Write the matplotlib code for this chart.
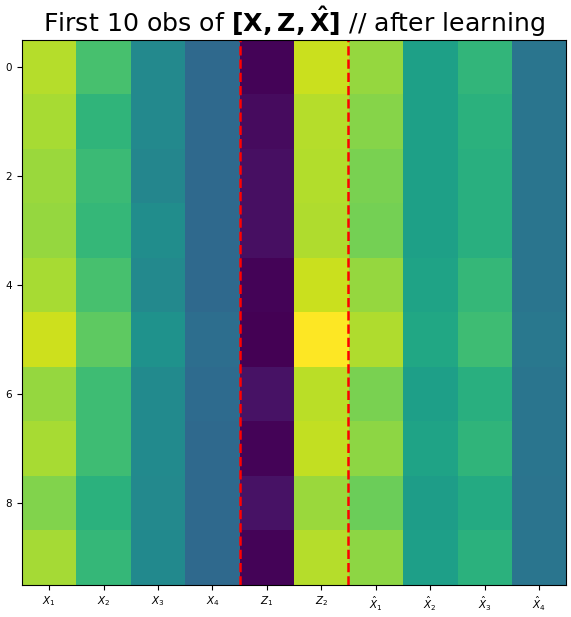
import matplotlib
matplotlib.use("Agg")
import matplotlib.pyplot as plt
import numpy as np

col_labels = [r'$X_1$', r'$X_2$', r'$X_3$', r'$X_4$', r'$Z_1$', r'$Z_2$',
              r'$\hat{X}_1$', r'$\hat{X}_2$', r'$\hat{X}_3$', r'$\hat{X}_4$']

# rows = first 10 observations, columns = X1..X4, Z1, Z2, Xhat1..Xhat4
X1 = [0.89, 0.87, 0.85, 0.84, 0.87, 0.925, 0.84, 0.87, 0.81, 0.865]
X2 = [0.71, 0.655, 0.68, 0.665, 0.71, 0.75, 0.69, 0.69, 0.64, 0.665]
X3 = [0.47, 0.47, 0.46, 0.49, 0.47, 0.51, 0.48, 0.48, 0.47, 0.475]
X4 = [0.34, 0.34, 0.34, 0.34, 0.34, 0.36, 0.35, 0.34, 0.34, 0.34]
Z1 = [0.01, 0.03, 0.04, 0.04, 0.01, 0.0, 0.05, 0.01, 0.05, 0.01]
Z2 = [0.92, 0.89, 0.885, 0.88, 0.92, 1.0, 0.895, 0.91, 0.85, 0.89]
XH1 = [0.84, 0.82, 0.80, 0.79, 0.84, 0.88, 0.80, 0.83, 0.775, 0.83]
XH2 = [0.57, 0.57, 0.57, 0.57, 0.58, 0.595, 0.565, 0.58, 0.555, 0.565]
XH3 = [0.66, 0.64, 0.63, 0.63, 0.665, 0.69, 0.63, 0.655, 0.61, 0.64]
XH4 = [0.39, 0.39, 0.39, 0.39, 0.39, 0.40, 0.39, 0.39, 0.385, 0.39]

data = np.column_stack([X1, X2, X3, X4, Z1, Z2, XH1, XH2, XH3, XH4])
n_x = 4
n_z = 2

fig = plt.figure(figsize=(5.71, 6.17), dpi=100, facecolor='white')
ax = fig.add_axes([0.0385, 0.052, 0.953, 0.883])
ax.imshow(data, cmap='viridis', aspect='auto', interpolation='nearest')
ax.axvline(n_x - 0.5, color='red', linestyle='--', linewidth=1.8)
ax.axvline(n_x + n_z - 0.5, color='red', linestyle='--', linewidth=1.8)
ax.set_xticks(range(len(col_labels)))
ax.set_xticklabels(col_labels, fontsize=7.5)
ax.set_yticks([0, 2, 4, 6, 8])
ax.tick_params(axis='y', labelsize=7.5)
ax.set_title(r'First 10 obs of $\mathbf{[X, Z, \hat{X}]}$ // after learning', fontsize=18.2)
fig.savefig('out.png', dpi=100, facecolor='white')
